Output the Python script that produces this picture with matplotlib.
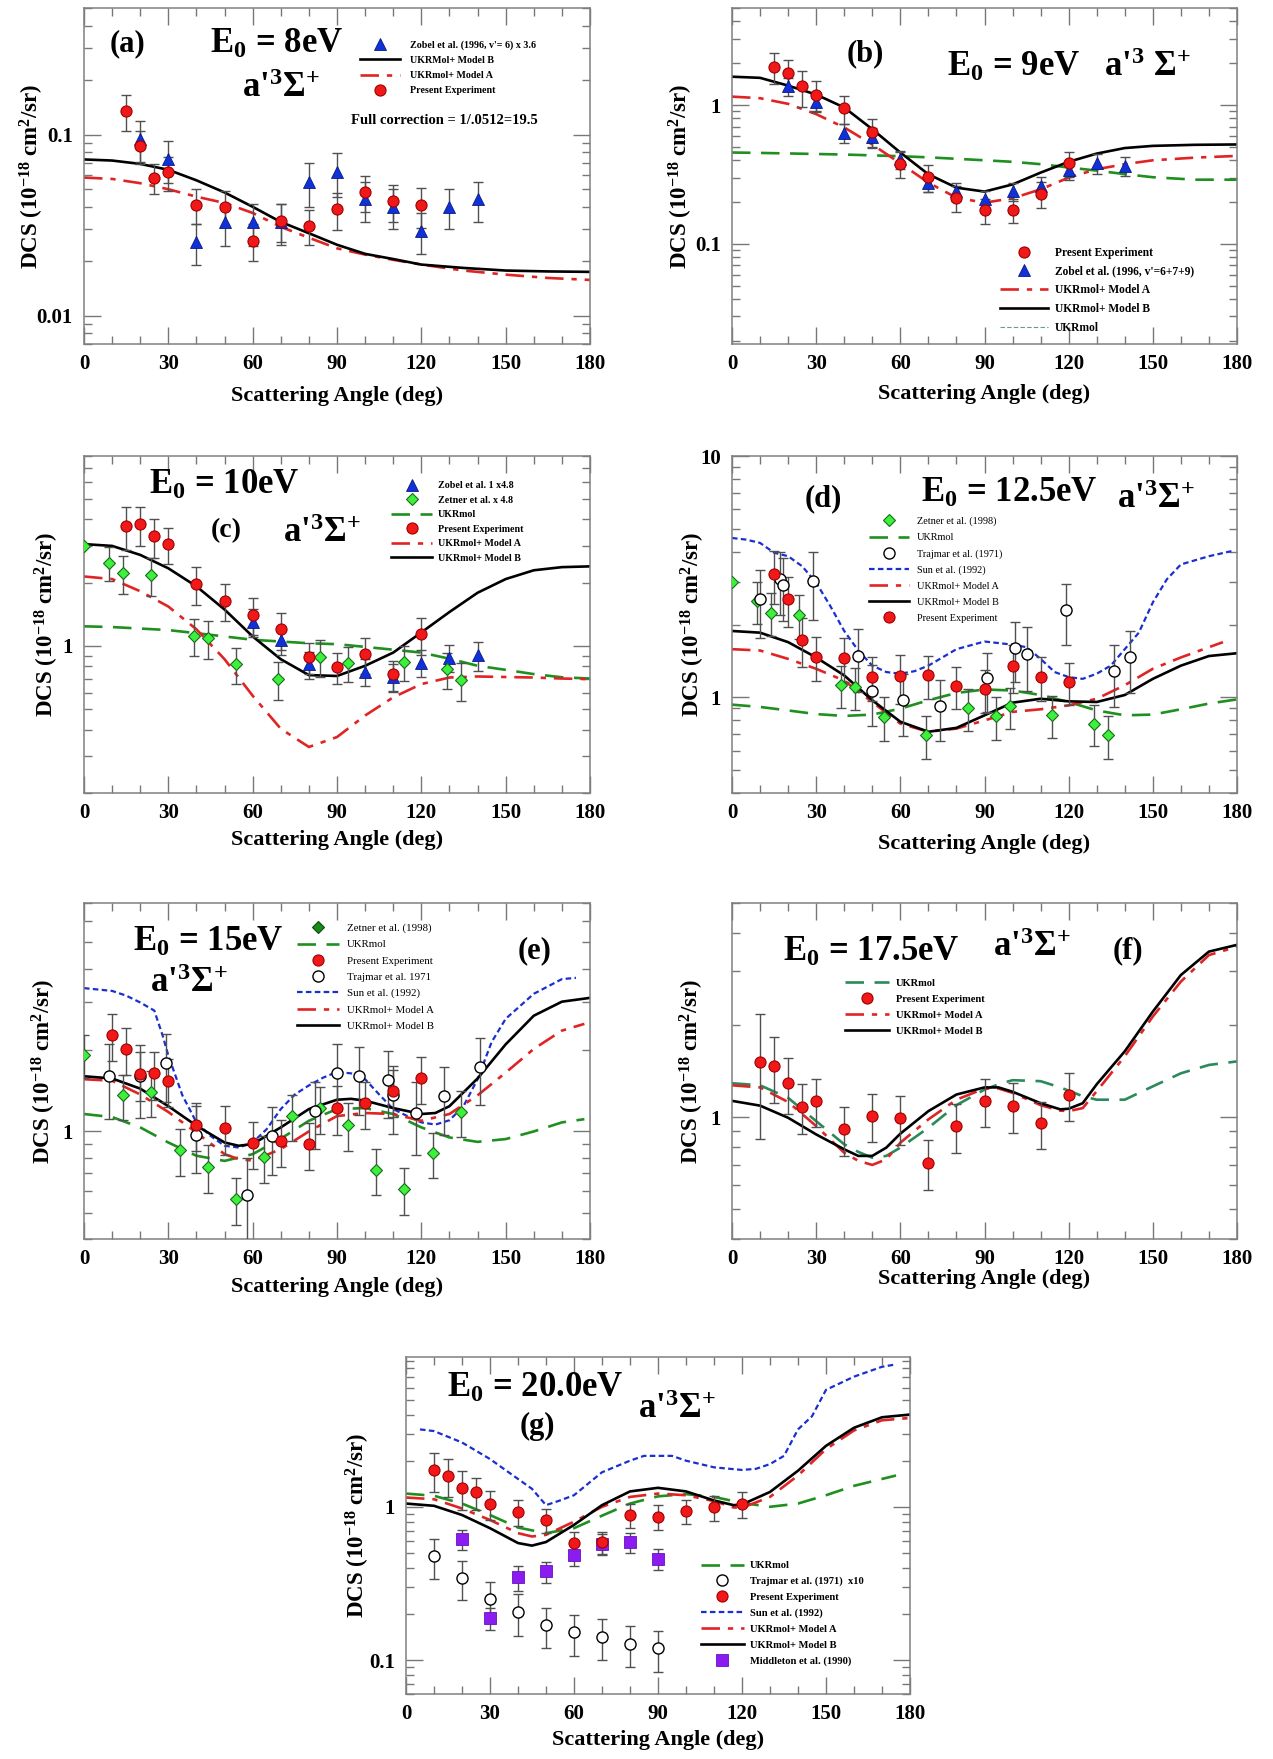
import matplotlib
matplotlib.use('Agg')
import matplotlib.pyplot as plt
from matplotlib.lines import Line2D
from matplotlib.ticker import LogLocator, FuncFormatter, MultipleLocator, NullFormatter

plt.rcParams['font.family'] = ['Liberation Serif', 'DejaVu Serif']
plt.rcParams['font.weight'] = 'bold'
plt.rcParams['mathtext.fontset'] = 'custom'
plt.rcParams['mathtext.rm'] = 'Liberation Serif:bold'
plt.rcParams['mathtext.it'] = 'Liberation Serif:italic:bold'
plt.rcParams['mathtext.bf'] = 'Liberation Serif:bold'

# ---------------- data ----------------
# (a) 8 eV
a_exp_ang = [15, 20, 25, 30, 40, 50, 60, 70, 80, 90, 100, 110, 120]
a_exp_val = [0.135, 0.087, 0.058, 0.062, 0.041, 0.040, 0.026, 0.0336, 0.0315, 0.0387, 0.0484, 0.0428, 0.0407]
a_exp_err = [0.03, 0.018, 0.011, 0.013, 0.009, 0.009, 0.006, 0.008, 0.007, 0.009, 0.011, 0.010, 0.010]
a_zob_ang = [20, 30, 40, 50, 60, 70, 80, 90, 100, 110, 120, 130, 140]
a_zob_val = [0.095, 0.073, 0.0255, 0.0329, 0.0329, 0.033, 0.055, 0.0624, 0.044, 0.040, 0.0294, 0.040, 0.044]
a_zob_err = [0.024, 0.019, 0.0065, 0.0085, 0.0085, 0.0085, 0.015, 0.017, 0.011, 0.010, 0.0075, 0.010, 0.011]
a_line_ang = [0, 10, 20, 30, 40, 50, 60, 70, 80, 90, 100, 110, 120, 135, 150, 165, 180]
a_modelB = [0.073, 0.072, 0.069, 0.064, 0.056, 0.048, 0.040, 0.033, 0.0286, 0.0247, 0.022, 0.0206, 0.0192, 0.0184, 0.0178, 0.0176, 0.0175]
a_modelA = [0.058, 0.057, 0.054, 0.050, 0.0455, 0.042, 0.037, 0.031, 0.027, 0.0236, 0.0218, 0.0204, 0.0192, 0.0178, 0.0169, 0.0162, 0.0158]

# (b) 9 eV
b_exp_ang = [15, 20, 25, 30, 40, 50, 60, 70, 80, 90, 100, 110, 120]
b_exp_val = [1.89, 1.69, 1.36, 1.19, 0.946, 0.641, 0.377, 0.303, 0.215, 0.174, 0.176, 0.23, 0.381]
b_exp_err = [0.47, 0.42, 0.40, 0.30, 0.22, 0.15, 0.08, 0.065, 0.045, 0.035, 0.035, 0.05, 0.08]
b_zob_ang = [20, 30, 40, 50, 60, 70, 80, 90, 100, 110, 120, 130, 140]
b_zob_val = [1.36, 1.06, 0.634, 0.59, 0.407, 0.276, 0.24, 0.211, 0.24, 0.261, 0.339, 0.381, 0.364]
b_zob_err = [0.20, 0.16, 0.10, 0.09, 0.06, 0.04, 0.035, 0.03, 0.035, 0.04, 0.05, 0.06, 0.055]
b_line_ang = [0, 10, 20, 30, 40, 50, 60, 70, 80, 90, 100, 110, 120, 130, 140, 150, 165, 180]
b_modelB = [1.60, 1.57, 1.38, 1.19, 0.96, 0.67, 0.455, 0.317, 0.254, 0.238, 0.268, 0.326, 0.39, 0.447, 0.49, 0.508, 0.517, 0.52]
b_modelA = [1.15, 1.12, 1.02, 0.86, 0.69, 0.52, 0.38, 0.276, 0.215, 0.198, 0.213, 0.247, 0.30, 0.345, 0.375, 0.40, 0.418, 0.43]
b_ukr = [0.455, 0.452, 0.448, 0.444, 0.44, 0.434, 0.428, 0.42, 0.41, 0.40, 0.39, 0.375, 0.355, 0.337, 0.318, 0.302, 0.29, 0.29]

# (c) 10 eV
c_exp_ang = [15, 20, 25, 30, 40, 50, 60, 70, 80, 90, 100, 110, 120]
c_exp_val = [3.72, 3.78, 3.33, 3.04, 1.97, 1.64, 1.41, 1.20, 0.887, 0.793, 0.913, 0.732, 1.135]
c_exp_err = [0.85, 0.80, 0.70, 0.60, 0.40, 0.33, 0.28, 0.24, 0.15, 0.13, 0.18, 0.12, 0.23]
c_zob_ang = [60, 70, 80, 100, 110, 120, 130, 140]
c_zob_val = [1.30, 1.07, 0.82, 0.754, 0.714, 0.834, 0.881, 0.904]
c_zob_err = [0.20, 0.16, 0.12, 0.11, 0.11, 0.12, 0.13, 0.14]
c_zet_ang = [0, 9, 14, 24, 39, 44, 54, 69, 84, 94, 114, 129, 134]
c_zet_val = [2.99, 2.49, 2.22, 2.18, 1.12, 1.09, 0.82, 0.696, 0.891, 0.834, 0.843, 0.776, 0.69]
c_zet_err = [0, 0.45, 0.45, 0.45, 0.22, 0.22, 0.16, 0.14, 0.18, 0.16, 0.16, 0.15, 0.14]
c_line_ang = [0, 10, 20, 30, 40, 50, 60, 70, 80, 90, 100, 110, 120, 130, 140, 150, 160, 170, 180]
c_modelB = [3.05, 2.99, 2.71, 2.34, 1.92, 1.49, 1.11, 0.865, 0.727, 0.72, 0.805, 0.93, 1.16, 1.45, 1.79, 2.08, 2.29, 2.37, 2.39]
c_modelA = [2.14, 2.08, 1.82, 1.54, 1.20, 0.865, 0.58, 0.404, 0.331, 0.369, 0.467, 0.57, 0.659, 0.708, 0.716, 0.712, 0.708, 0.70, 0.696]
c_ukr = [1.24, 1.23, 1.21, 1.19, 1.15, 1.11, 1.07, 1.05, 1.03, 1.02, 0.99, 0.96, 0.93, 0.87, 0.805, 0.77, 0.735, 0.71, 0.70]

# (d) 12.5 eV
d_exp_ang = [15, 20, 25, 30, 40, 50, 60, 70, 80, 90, 100, 110, 120]
d_exp_val = [3.23, 2.55, 1.73, 1.47, 1.45, 1.21, 1.22, 1.23, 1.11, 1.08, 1.34, 1.21, 1.16]
d_exp_err = [0.80, 0.60, 0.40, 0.30, 0.30, 0.25, 0.28, 0.25, 0.22, 0.22, 0.30, 0.25, 0.23]
d_tra_ang = [10, 17, 18, 29, 45, 50, 61, 74, 91, 101, 105, 119, 136, 142]
d_tra_val = [2.55, 3.10, 2.92, 3.03, 1.48, 1.06, 0.97, 0.918, 1.20, 1.60, 1.51, 2.30, 1.28, 1.46]
d_tra_err = [0.80, 0.90, 0.85, 0.95, 0.43, 0.30, 0.28, 0.26, 0.33, 0.45, 0.45, 0.65, 0.37, 0.42]
d_zet_ang = [0, 9, 14, 24, 39, 44, 54, 69, 84, 94, 99, 114, 129, 134]
d_zet_val = [3.0, 2.51, 2.24, 2.19, 1.12, 1.10, 0.826, 0.695, 0.901, 0.835, 0.915, 0.845, 0.774, 0.695]
d_zet_err = [0, 0.50, 0.45, 0.45, 0.22, 0.22, 0.17, 0.14, 0.18, 0.17, 0.18, 0.17, 0.15, 0.14]
d_line_ang = [0, 10, 20, 30, 40, 50, 60, 70, 80, 90, 100, 110, 120, 130, 140, 150, 160, 170, 180]
d_modelB = [1.88, 1.85, 1.69, 1.46, 1.23, 0.97, 0.79, 0.718, 0.745, 0.84, 0.948, 0.984, 0.96, 0.954, 1.02, 1.19, 1.35, 1.48, 1.52]
d_ukr = [0.93, 0.91, 0.88, 0.85, 0.835, 0.846, 0.895, 0.97, 1.04, 1.075, 1.065, 1.02, 0.954, 0.88, 0.84, 0.846, 0.89, 0.94, 0.978]
d_modelA_ang = [0, 10, 20, 30, 40, 50, 60, 70, 80, 90, 100, 110, 120, 130, 140, 150, 160, 170, 175]
d_modelA = [1.58, 1.56, 1.44, 1.31, 1.17, 0.953, 0.776, 0.718, 0.74, 0.80, 0.868, 0.89, 0.924, 0.984, 1.12, 1.31, 1.46, 1.61, 1.69]
d_sun_ang = [0, 5, 10, 15, 20, 25, 30, 35, 40, 45, 50, 55, 60, 65, 70, 80, 90, 100, 105, 110, 115, 120, 125, 130, 135, 140, 145, 150, 155, 160, 170, 178]
d_sun = [4.57, 4.5, 4.36, 3.97, 3.84, 3.49, 2.98, 2.39, 1.88, 1.56, 1.35, 1.27, 1.25, 1.28, 1.35, 1.58, 1.70, 1.65, 1.61, 1.44, 1.27, 1.21, 1.19, 1.25, 1.35, 1.58, 1.85, 2.47, 3.08, 3.55, 3.84, 4.03]

# (e) 15 eV
e_exp_ang = [10, 15, 20, 25, 30, 40, 50, 60, 70, 80, 90, 100, 110, 120]
e_exp_val = [2.27, 2.02, 1.63, 1.64, 1.54, 1.06, 1.03, 0.906, 0.918, 0.898, 1.22, 1.27, 1.41, 1.57]
e_exp_err = [0.45, 0.40, 0.33, 0.33, 0.31, 0.21, 0.21, 0.18, 0.18, 0.18, 0.25, 0.25, 0.28, 0.31]
e_tra_ang = [9, 20, 29, 40, 58, 67, 82, 90, 98, 108, 110, 118, 128, 141]
e_tra_val = [1.61, 1.60, 1.79, 0.97, 0.58, 0.958, 1.19, 1.65, 1.60, 1.55, 1.36, 1.17, 1.35, 1.73]
e_tra_err = [0.50, 0.48, 0.50, 0.27, 0.22, 0.27, 0.33, 0.46, 0.45, 0.43, 0.38, 0.35, 0.38, 0.48]
e_zet_ang = [0, 14, 24, 34, 44, 54, 64, 74, 84, 94, 104, 114, 124, 134]
e_zet_val = [1.92, 1.36, 1.40, 0.855, 0.741, 0.561, 0.805, 1.14, 1.22, 1.06, 0.72, 0.611, 0.83, 1.18]
e_zet_err = [0.35, 0.26, 0.27, 0.17, 0.15, 0.11, 0.16, 0.22, 0.24, 0.21, 0.14, 0.12, 0.16, 0.23]
e_modelB_ang = [0, 10, 20, 30, 40, 50, 55, 60, 70, 80, 90, 95, 100, 110, 120, 125, 130, 140, 150, 160, 170, 180]
e_modelB = [1.60, 1.57, 1.44, 1.24, 1.05, 0.91, 0.885, 0.898, 1.035, 1.21, 1.31, 1.32, 1.30, 1.22, 1.16, 1.17, 1.24, 1.57, 2.10, 2.68, 3.02, 3.12]
e_modelA_ang = [0, 10, 20, 30, 40, 50, 55, 60, 70, 80, 90, 100, 110, 120, 130, 140, 150, 160, 170, 178]
e_modelA = [1.56, 1.54, 1.37, 1.18, 0.99, 0.824, 0.79, 0.78, 0.86, 1.0, 1.14, 1.17, 1.16, 1.095, 1.16, 1.36, 1.65, 2.02, 2.36, 2.50]
e_ukr_ang = [0, 10, 20, 30, 40, 50, 60, 70, 80, 90, 100, 110, 120, 130, 140, 150, 160, 170, 178]
e_ukr = [1.16, 1.13, 1.035, 0.91, 0.813, 0.778, 0.824, 0.94, 1.095, 1.21, 1.22, 1.16, 1.035, 0.95, 0.915, 0.937, 1.0, 1.08, 1.11]
e_sun_ang = [0, 10, 15, 20, 25, 28, 30, 35, 40, 45, 50, 55, 60, 65, 70, 75, 80, 85, 90, 95, 100, 105, 110, 115, 120, 125, 130, 135, 140, 145, 150, 160, 170, 175]
e_sun = [3.39, 3.31, 3.18, 3.0, 2.80, 2.26, 1.91, 1.36, 1.08, 0.963, 0.885, 0.872, 0.91, 1.02, 1.21, 1.37, 1.48, 1.58, 1.66, 1.64, 1.56, 1.37, 1.21, 1.14, 1.08, 1.06, 1.10, 1.24, 1.56, 2.14, 2.61, 3.23, 3.66, 3.70]

# (f) 17.5 eV
f_exp_ang = [10, 15, 20, 25, 30, 40, 50, 60, 70, 80, 90, 100, 110, 120]
f_exp_val = [1.51, 1.47, 1.29, 1.08, 1.13, 0.912, 1.01, 0.99, 0.71, 0.935, 1.13, 1.09, 0.954, 1.18]
f_exp_err = [0.66, 0.36, 0.27, 0.20, 0.20, 0.165, 0.18, 0.18, 0.13, 0.17, 0.20, 0.20, 0.17, 0.21]
f_line_ang = [0, 10, 20, 30, 40, 45, 50, 55, 60, 70, 80, 90, 95, 100, 110, 117, 120, 125, 130, 140, 150, 160, 170, 180]
f_modelB = [1.13, 1.09, 0.995, 0.878, 0.785, 0.747, 0.747, 0.795, 0.883, 1.046, 1.185, 1.25, 1.25, 1.21, 1.11, 1.06, 1.065, 1.11, 1.28, 1.64, 2.21, 2.91, 3.47, 3.65]
f_modelA = [1.27, 1.25, 1.12, 0.935, 0.765, 0.72, 0.698, 0.728, 0.825, 0.983, 1.14, 1.24, 1.24, 1.20, 1.094, 1.05, 1.046, 1.07, 1.215, 1.58, 2.13, 2.77, 3.38, 3.60]
f_ukr = [1.29, 1.27, 1.156, 0.97, 0.815, 0.77, 0.737, 0.747, 0.795, 0.923, 1.094, 1.23, 1.28, 1.32, 1.31, 1.25, 1.22, 1.17, 1.14, 1.14, 1.26, 1.39, 1.48, 1.52]

# (g) 20 eV
g_exp_ang = [10, 15, 20, 25, 30, 40, 50, 60, 70, 80, 90, 100, 110, 120]
g_exp_val = [1.74, 1.60, 1.33, 1.25, 1.04, 0.929, 0.82, 0.58, 0.589, 0.884, 0.862, 0.938, 0.993, 1.04]
g_exp_err = [0.50, 0.45, 0.38, 0.30, 0.22, 0.18, 0.15, 0.10, 0.10, 0.16, 0.16, 0.17, 0.18, 0.20]
g_tra_ang = [10, 20, 30, 40, 50, 60, 70, 80, 90]
g_tra_val = [0.476, 0.345, 0.249, 0.207, 0.169, 0.152, 0.142, 0.128, 0.119]
g_tra_err = [0.14, 0.10, 0.075, 0.063, 0.05, 0.045, 0.042, 0.038, 0.035]
g_mid_ang = [20, 30, 40, 50, 60, 70, 80, 90]
g_mid_val = [0.616, 0.188, 0.348, 0.379, 0.488, 0.571, 0.589, 0.457]
g_mid_err = [0.09, 0.03, 0.065, 0.06, 0.08, 0.09, 0.09, 0.07]
g_line_ang = [0, 10, 20, 30, 40, 45, 50, 60, 70, 80, 90, 100, 110, 117, 120, 130, 140, 150, 160, 170, 180]
g_modelB = [1.05, 1.015, 0.884, 0.725, 0.58, 0.558, 0.589, 0.762, 1.025, 1.26, 1.33, 1.26, 1.10, 1.025, 1.035, 1.25, 1.72, 2.50, 3.28, 3.84, 4.0]
g_modelA = [1.15, 1.12, 0.975, 0.82, 0.673, 0.64, 0.656, 0.80, 1.0, 1.16, 1.22, 1.19, 1.09, 0.99, 0.985, 1.16, 1.60, 2.38, 3.15, 3.67, 3.8]
g_ukr_ang = [0, 10, 20, 30, 40, 50, 60, 70, 80, 90, 100, 110, 120, 130, 140, 150, 160, 175]
g_ukr = [1.22, 1.18, 1.05, 0.884, 0.732, 0.673, 0.725, 0.875, 1.05, 1.17, 1.21, 1.16, 1.06, 1.0, 1.05, 1.19, 1.37, 1.60]
g_sun_ang = [5, 10, 20, 30, 40, 45, 50, 55, 60, 70, 80, 85, 90, 95, 100, 110, 120, 125, 130, 135, 140, 145, 150, 160, 170, 175]
g_sun = [3.2, 3.12, 2.63, 2.05, 1.52, 1.31, 1.025, 1.10, 1.19, 1.68, 2.0, 2.15, 2.15, 2.15, 2.0, 1.81, 1.74, 1.77, 1.90, 2.15, 3.2, 3.9, 5.8, 7.07, 8.2, 8.5]

# ---------------- styles ----------------
RED = '#f01818'
RED_EDGE = '#a00000'
STY = {
    'exp': dict(marker='o', ms=8, mfc=RED, mec=RED_EDGE, mew=0.8, ls='none'),
    'zob': dict(marker='^', ms=8, mfc='#1030d8', mec='#0a1a80', mew=0.6, ls='none'),
    'zet': dict(marker='D', ms=6, mfc='#3cf03c', mec='#1a6a1a', mew=0.8, ls='none'),
    'zetdk': dict(marker='D', ms=6, mfc='#1a8a1a', mec='#0a4a0a', mew=0.8, ls='none'),
    'tra': dict(marker='o', ms=8, mfc='white', mec='black', mew=1.0, ls='none'),
    'mid': dict(marker='s', ms=8, mfc='#8a1cf0', mec='#6a10c0', mew=0.6, ls='none'),
    'B': dict(color='black', lw=1.9, ls='-'),
    'A': dict(color='#e02424', lw=1.9, ls=(0, (7, 3, 2, 3))),
    'U': dict(color='#1f8f1f', lw=1.9, ls=(0, (7, 4))),
    'Uf': dict(color='#2a8a5a', lw=1.9, ls=(0, (7, 4))),
    'Ub': dict(color='#6a9a8a', lw=0.8, ls=(0, (4, 2))),
    'S': dict(color='#1a2fd0', lw=1.6, ls=(0, (2.5, 1.5))),
}
ERRC = '#505050'

fig = plt.figure(figsize=(12.73, 17.59), dpi=100)
W, H = 1273.0, 1759.0


def make_ax(left, top, right, bottom):
    return fig.add_axes([left / W, 1 - bottom / H, (right - left) / W, (bottom - top) / H])


def style_ax(ax, ylo, yhi, ylab_x, xlab_y):
    ax.set_xlim(0, 180)
    ax.set_yscale('log')
    ax.set_ylim(ylo, yhi)
    ax.xaxis.set_major_locator(MultipleLocator(30))
    ax.xaxis.set_minor_locator(MultipleLocator(10))
    ax.yaxis.set_major_locator(LogLocator(base=10, numticks=10))
    ax.yaxis.set_minor_locator(LogLocator(base=10, subs=[2, 3, 4, 5, 6, 7, 8, 9], numticks=20))
    ax.yaxis.set_major_formatter(FuncFormatter(lambda v, p: '%g' % v))
    ax.yaxis.set_minor_formatter(NullFormatter())
    ax.tick_params(which='both', direction='in', top=True, right=True, colors='#777777',
                   labelcolor='black', labelsize=15, width=1.0)
    ax.tick_params(which='major', length=12)
    ax.tick_params(which='minor', length=6)
    ax.tick_params(axis='x', pad=7)
    ax.tick_params(axis='y', pad=8)
    for lab in ax.get_xticklabels() + ax.get_yticklabels():
        lab.set_fontweight('bold')
    for s in ax.spines.values():
        s.set_color('#808080')
        s.set_linewidth(1.1)
    ax.set_xlabel('Scattering Angle (deg)', fontsize=16, fontweight='bold')
    ax.set_ylabel('DCS (10$^{-18}$ cm$^{2}$/sr)', fontsize=16.5, fontweight='bold')
    ax.xaxis.set_label_coords(0.5, xlab_y)
    ax.yaxis.set_label_coords(ylab_x, 0.5)


def points(ax, ang, val, err, kind):
    ax.errorbar(ang, val, yerr=err, fmt='none', ecolor=ERRC, elinewidth=1.0, capsize=3.5,
                capthick=1.0, zorder=3)
    ax.plot(ang, val, zorder=5, **STY[kind])


def curve(ax, ang, val, kind):
    ax.plot(ang, val, zorder=2, **STY[kind])


def handle(kind):
    return Line2D([], [], **STY[kind])


def legend(ax, items, x, y, fs, ls, hl, htp, bold=True):
    hs = [handle(k) for k, _ in items]
    labs = [l for _, l in items]
    ax.legend(hs, labs, loc='upper left', bbox_to_anchor=(x, y), frameon=False,
              prop={'family': 'Liberation Serif', 'weight': 'bold' if bold else 'normal', 'size': fs},
              handlelength=hl, handletextpad=htp, labelspacing=ls, borderpad=0,
              borderaxespad=0, numpoints=1)


def txt(ax, x, y, s, size=24, ha='center'):
    ax.text(x, y, s, transform=ax.transAxes, ha=ha, va='center', fontsize=size,
            fontweight='bold', zorder=6)


SIG = "a'$^{3}\\Sigma^{+}$"

# ---- (a)
ax = make_ax(84, 8, 590, 344)
curve(ax, a_line_ang, a_modelA, 'A')
curve(ax, a_line_ang, a_modelB, 'B')
points(ax, a_zob_ang, a_zob_val, a_zob_err, 'zob')
points(ax, a_exp_ang, a_exp_val, a_exp_err, 'exp')
style_ax(ax, 0.007, 0.5, -0.075, -0.125)
txt(ax, 0.085, 0.893, '(a)', 22)
txt(ax, 0.38, 0.893, 'E$_0$ = 8eV', 25)
txt(ax, 0.39, 0.76, SIG, 25)
legend(ax, [('zob', "Zobel et al. (1996, v'= 6) x 3.6"), ('B', 'UKRMol+ Model B'),
            ('A', 'UKRmol+ Model A'), ('exp', 'Present Experiment')], 0.545, 0.905,
       fs=7.2, ls=0.63, hl=4.0, htp=1.0)
txt(ax, 0.527, 0.665, 'Full correction = 1/.0512=19.5', 10.5, ha='left')

# ---- (b)
ax = make_ax(732, 8, 1237, 344)
curve(ax, b_line_ang, b_ukr, 'U')
curve(ax, b_line_ang, b_modelA, 'A')
curve(ax, b_line_ang, b_modelB, 'B')
points(ax, b_zob_ang, b_zob_val, b_zob_err, 'zob')
points(ax, b_exp_ang, b_exp_val, b_exp_err, 'exp')
style_ax(ax, 0.019, 5, -0.073, -0.119)
txt(ax, 0.263, 0.864, '(b)', 22)
txt(ax, 0.425, 0.829, "E$_0$ = 9eV   a'$^{3}$ $\\Sigma^{+}$", 25, ha='left')
legend(ax, [('exp', 'Present Experiment'), ('zob', "Zobel et al. (1996, v'=6+7+9)"),
            ('A', 'UKRmol+ Model A'), ('B', 'UKRmol+ Model B'), ('Ub', 'UKRmol')],
       0.53, 0.29, fs=8.3, ls=0.59, hl=4.2, htp=0.6)

# ---- (c)
ax = make_ax(84, 456, 590, 793)
curve(ax, c_line_ang, c_ukr, 'U')
curve(ax, c_line_ang, c_modelA, 'A')
curve(ax, c_line_ang, c_modelB, 'B')
points(ax, c_zob_ang, c_zob_val, c_zob_err, 'zob')
points(ax, c_zet_ang, c_zet_val, c_zet_err, 'zet')
points(ax, c_exp_ang, c_exp_val, c_exp_err, 'exp')
style_ax(ax, 0.2, 8, -0.046, -0.11)
txt(ax, 0.277, 0.914, 'E$_0$ = 10eV', 25)
txt(ax, 0.281, 0.78, '(c)', 20)
txt(ax, 0.471, 0.77, SIG, 25)
legend(ax, [('zob', 'Zobel et al. 1 x4.8'), ('zet', 'Zetner et al. x 4.8'), ('U', 'UKRmol'),
            ('exp', 'Present Experiment'), ('A', 'UKRmol+ Model A'), ('B', 'UKRmol+ Model B')],
       0.607, 0.925, fs=7.2, ls=0.55, hl=4.1, htp=0.6)

# ---- (d)
ax = make_ax(732, 456, 1237, 793)
curve(ax, d_line_ang, d_ukr, 'U')
curve(ax, d_sun_ang, d_sun, 'S')
curve(ax, d_modelA_ang, d_modelA, 'A')
curve(ax, d_line_ang, d_modelB, 'B')
points(ax, d_zet_ang, d_zet_val, d_zet_err, 'zet')
points(ax, d_tra_ang, d_tra_val, d_tra_err, 'tra')
points(ax, d_exp_ang, d_exp_val, d_exp_err, 'exp')
style_ax(ax, 0.4, 10, -0.05, -0.122)
txt(ax, 0.181, 0.874, '(d)', 22)
txt(ax, 0.549, 0.889, 'E$_0$ = 12.5eV', 25)
txt(ax, 0.84, 0.87, SIG, 25)
legend(ax, [('zet', 'Zetner et al. (1998)'), ('U', 'UKRmol'), ('tra', 'Trajmar et al. (1971)'),
            ('S', 'Sun et al. (1992)'), ('A', 'UKRmol+ Model A'), ('B', 'UKRmol+ Model B'),
            ('exp', 'Present Experiment')], 0.272, 0.82,
       fs=7.4, ls=0.66, hl=3.9, htp=0.7, bold=False)

# ---- (e)
ax = make_ax(84, 903, 590, 1239)
curve(ax, e_ukr_ang, e_ukr, 'U')
curve(ax, e_sun_ang, e_sun, 'S')
curve(ax, e_modelA_ang, e_modelA, 'A')
curve(ax, e_modelB_ang, e_modelB, 'B')
points(ax, e_zet_ang, e_zet_val, e_zet_err, 'zet')
points(ax, e_tra_ang, e_tra_val, e_tra_err, 'tra')
points(ax, e_exp_ang, e_exp_val, e_exp_err, 'exp')
style_ax(ax, 0.4, 7, -0.052, -0.113)
txt(ax, 0.245, 0.884, 'E$_0$ = 15eV', 25)
txt(ax, 0.208, 0.76, SIG, 25)
txt(ax, 0.891, 0.859, '(e)', 22)
legend(ax, [('zetdk', 'Zetner et al. (1998)'), ('U', 'UKRmol'), ('exp', 'Present Experiment'),
            ('tra', 'Trajmar et al. 1971'), ('S', 'Sun et al. (1992)'), ('A', 'UKRmol+ Model A'),
            ('B', 'UKRmol+ Model B')], 0.421, 0.94,
       fs=7.8, ls=0.62, hl=3.9, htp=0.7, bold=False)

# ---- (f)
ax = make_ax(732, 903, 1237, 1239)
curve(ax, f_line_ang, f_ukr, 'Uf')
curve(ax, f_line_ang, f_modelA, 'A')
curve(ax, f_line_ang, f_modelB, 'B')
points(ax, f_exp_ang, f_exp_val, f_exp_err, 'exp')
style_ax(ax, 0.4, 5, -0.052, -0.089)
txt(ax, 0.275, 0.852, 'E$_0$ = 17.5eV', 25)
txt(ax, 0.594, 0.867, SIG, 25)
txt(ax, 0.784, 0.857, '(f)', 22)
legend(ax, [('Uf', 'UKRmol'), ('exp', 'Present Experiment'), ('A', 'UKRmol+ Model A'),
            ('B', 'UKRmol+ Model B')], 0.223, 0.775, fs=7.6, ls=0.63, hl=4.2, htp=0.65)

# ---- (g)
ax = make_ax(406, 1357, 910, 1694)
curve(ax, g_ukr_ang, g_ukr, 'U')
curve(ax, g_sun_ang, g_sun, 'S')
curve(ax, g_line_ang, g_modelA, 'A')
curve(ax, g_line_ang, g_modelB, 'B')
points(ax, g_mid_ang, g_mid_val, g_mid_err, 'mid')
points(ax, g_tra_ang, g_tra_val, g_tra_err, 'tra')
points(ax, g_exp_ang, g_exp_val, g_exp_err, 'exp')
style_ax(ax, 0.06, 9.5, -0.068, -0.107)
txt(ax, 0.256, 0.908, 'E$_0$ = 20.0eV', 25)
txt(ax, 0.26, 0.793, '(g)', 22)
txt(ax, 0.537, 0.844, SIG, 25)
legend(ax, [('U', 'UKRmol'), ('tra', 'Trajmar et al. (1971)  x10'), ('exp', 'Present Experiment'),
            ('S', 'Sun et al. (1992)'), ('A', 'UKRmol+ Model A'), ('B', 'UKRmol+ Model B'),
            ('mid', 'Middleton et al. (1990)')], 0.586, 0.395, fs=7.6, ls=0.61, hl=4.0, htp=0.6)

fig.savefig('out.png', dpi=100, facecolor='white')
